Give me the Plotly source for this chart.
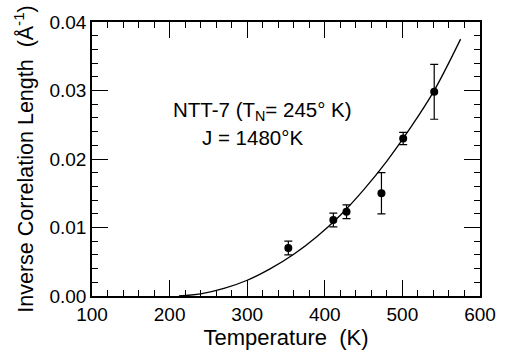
import plotly.graph_objects as go

# Measured data points (NTT-7)
temperature_K = [353, 411, 428, 473, 501, 541]
inv_corr_length = [0.0070, 0.0111, 0.0123, 0.0150, 0.0230, 0.0298]
error_up = [0.0010, 0.0010, 0.0010, 0.0030, 0.0009, 0.0040]

# Theory curve
curve_T = [212, 240, 270, 300, 330, 360, 390, 420, 450, 480, 510, 540, 575]
curve_val = [0.0000, 0.0003, 0.0011, 0.0023, 0.0040, 0.0061, 0.0087, 0.0118, 0.0155, 0.0197, 0.0245, 0.0298, 0.0375]

x_ticks = [100, 200, 300, 400, 500, 600]
y_ticks = [0.00, 0.01, 0.02, 0.03, 0.04]

FONT = "Liberation Sans, Arial, sans-serif"

fig = go.Figure()
fig.add_trace(go.Scatter(
    x=curve_T, y=curve_val, mode="lines",
    line=dict(color="black", width=1.3, shape="spline", smoothing=1.0),
    showlegend=False, hoverinfo="skip"))
fig.add_trace(go.Scatter(
    x=temperature_K, y=inv_corr_length, mode="markers",
    marker=dict(color="black", size=8),
    error_y=dict(type="data", array=error_up, visible=True,
                 color="black", thickness=1.2, width=4),
    showlegend=False))

fig.add_annotation(x=0.44, y=0.675, xref="paper", yref="paper", yanchor="middle",
                   text="NTT-7 (T<sub>N</sub>= 245° K)", showarrow=False,
                   font=dict(family=FONT, size=20.5, color="black"))
fig.add_annotation(x=0.413, y=0.58, xref="paper", yref="paper", yanchor="middle",
                   text="J = 1480°K", showarrow=False,
                   font=dict(family=FONT, size=20.5, color="black"))

axis_common = dict(
    showline=True, linecolor="black", linewidth=1.5, mirror="ticks",
    ticks="inside", ticklen=16, tickwidth=1.3, tickcolor="black",
    showgrid=False, zeroline=False,
    tickfont=dict(family=FONT, size=19, color="black"),
)

fig.update_xaxes(
    range=[100, 600], tickvals=x_ticks,
    minor=dict(dtick=20, ticks="inside", ticklen=6, tickwidth=1.2, tickcolor="black", showgrid=False),
    title=dict(text="Temperature\u00a0\u00a0(K)", font=dict(family=FONT, size=22, color="black"), standoff=2),
    **axis_common)
fig.update_yaxes(
    range=[0, 0.04], tickvals=y_ticks, tickformat=".2f",
    minor=dict(dtick=0.002, ticks="inside", ticklen=6, tickwidth=1.2, tickcolor="black", showgrid=False),
    title=dict(text="Inverse Correlation Length\u00a0\u00a0(Å<sup>-1</sup>)", font=dict(family=FONT, size=21.5, color="black"), standoff=10),
    **axis_common)

fig.update_layout(
    width=508, height=354,
    margin=dict(l=92, r=18, t=22, b=57),
    paper_bgcolor="white", plot_bgcolor="white",
)

fig.write_html("out.html")
